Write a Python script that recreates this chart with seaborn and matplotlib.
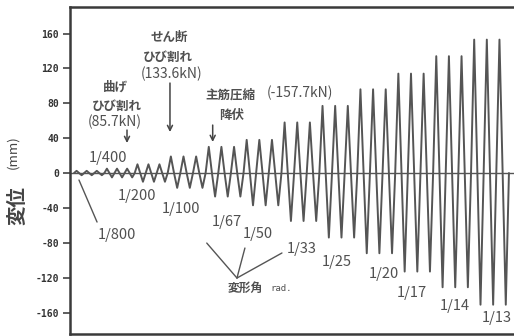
import numpy as np
import pandas as pd
import matplotlib
matplotlib.use("Agg")
import matplotlib.pyplot as plt
import seaborn as sns

# Loading protocol: drift-angle levels, three cycles each
levels = ["1/800", "1/400", "1/200", "1/100", "1/67", "1/50",
          "1/33", "1/25", "1/20", "1/17", "1/14", "1/13"]
pos_peak = [2.5, 5, 10, 19, 30, 38, 58, 77, 96, 114, 134, 153]        # mm
neg_peak = [-2.5, -5, -10, -17, -27, -37, -55, -74, -92, -113, -131, -151]  # mm
cycle_time = [0.8, 0.8, 0.87, 1, 1, 1, 1, 1, 1, 1, 1, 1]  # duration of one cycle
cycles_per_level = 3
y_ticks = [-160, -120, -80, -40, 0, 40, 80, 120, 160]

# Build the displacement history: 0 -> +A -> 0 -> -A -> 0 for each cycle
t, d = [0.0], [0.0]
now = 0.0
for ap, an, T in zip(pos_peak, neg_peak, cycle_time):
    for _ in range(cycles_per_level):
        for frac, val in ((0.25, ap), (0.5, 0.0), (0.75, an), (1.0, 0.0)):
            t.append(now + frac * T)
            d.append(val)
        now += T
history = pd.DataFrame({"step": t, "disp": d})

sns.set_style("ticks")
plt.rcParams["font.family"] = ["Noto Sans CJK JP", "DejaVu Sans"]

fig = plt.figure(figsize=(5.14, 3.36), dpi=100)
ax = fig.add_axes([70 / 514, 2 / 336, 1 - 70 / 514, 327 / 336])

line_c = "#555555"
text_c = "#505050"

ax.axhline(0, color=line_c, lw=1.0, zorder=1)
sns.lineplot(data=history, x="step", y="disp", sort=False, estimator=None,
             color=line_c, lw=1.4, ax=ax, zorder=2)

ax.set_xlim(-0.32, 34.81)
ax.set_ylim(-184.6, 190.4)
ax.set_yticks(y_ticks)
ax.set_yticklabels([str(v) for v in y_ticks], family="DejaVu Sans Mono",
                   fontweight="bold", fontsize=7, color="#333333")
ax.set_xticks([])
ax.set_xlabel("")
ax.set_ylabel("")
ax.tick_params(axis="y", direction="out", length=5, width=1.1,
               color="#333333", pad=3)
for side in ("left", "top", "bottom"):
    ax.spines[side].set_linewidth(1.8)
    ax.spines[side].set_color("#3a3a3a")
ax.spines["right"].set_visible(False)

# Axis title, vertical
fig.text(18 / 514, 1 - 205 / 336, "変位", rotation=90, fontsize=14,
         fontweight="bold", color="#444444", ha="center", va="center")
fig.text(13 / 514, 1 - 152 / 336, "(mm)", rotation=90, fontsize=9.5,
         color="#444444", ha="center", va="center")

# Drift-angle labels
frac_pos = {
    "1/800": (3.4, -71.1), "1/400": (2.69, 17.2), "1/200": (4.98, -26.4),
    "1/100": (8.46, -41.3), "1/67": (12.1, -56.2), "1/50": (14.55, -70.0),
    "1/33": (18.03, -87.2), "1/25": (20.8, -102.0), "1/20": (24.5, -115.8),
    "1/17": (26.74, -137.6), "1/14": (30.14, -152.5), "1/13": (33.46, -166.3),
}
for lab in levels:
    x, y = frac_pos[lab]
    ax.text(x, y, lab, fontsize=10.5, color=text_c, ha="center", va="center")

# Leader lines
ax.plot([0.39, 1.82], [-8.0, -56.2], color=line_c, lw=1.0)
apex = (12.89, -120.4)
for ex, ey in ((10.5, -80.3), (13.52, -86.0), (16.45, -91.7)):
    ax.plot([apex[0], ex], [apex[1], ey], color=line_c, lw=1.0)
ax.text(13.53, -131.9, "変形角", fontsize=8.5, fontweight="bold",
        color=text_c, ha="center", va="center")
ax.text(15.5, -132.5, "rad.", fontsize=6.5, family="DejaVu Sans Mono",
        color=text_c, ha="left", va="center")

# Event annotations
jp = dict(fontsize=9, fontweight="bold", color=text_c, ha="center", va="center")
kn = dict(fontsize=10, color=text_c, ha="center", va="center")
ax.text(3.24, 98.6, "曲げ", **jp)
ax.text(3.40, 76.8, "ひび割れ", **jp)
ax.text(3.24, 58.5, "(85.7kN)", **kn)
ax.text(7.51, 156.0, "せん断", **jp)
ax.text(7.43, 133.0, "ひび割れ", **jp)
ax.text(7.75, 113.5, "(133.6kN)", **kn)
ax.text(12.34, 89.4, "主筋圧縮", **jp)
ax.text(17.88, 91.7, "(-157.7kN)", **kn)
ax.text(12.5, 66.5, "降伏", **jp)

arrow = dict(arrowstyle="->", color="#444444", lw=1.1,
             shrinkA=0, shrinkB=0, mutation_scale=9)
ax.annotate("", xy=(4.19, 34.4), xytext=(4.19, 49.3), arrowprops=arrow)
ax.annotate("", xy=(7.59, 47.0), xytext=(7.59, 103.2), arrowprops=arrow)
ax.annotate("", xy=(10.97, 35.6), xytext=(10.97, 55.0), arrowprops=arrow)

fig.savefig("out.png", dpi=100)
